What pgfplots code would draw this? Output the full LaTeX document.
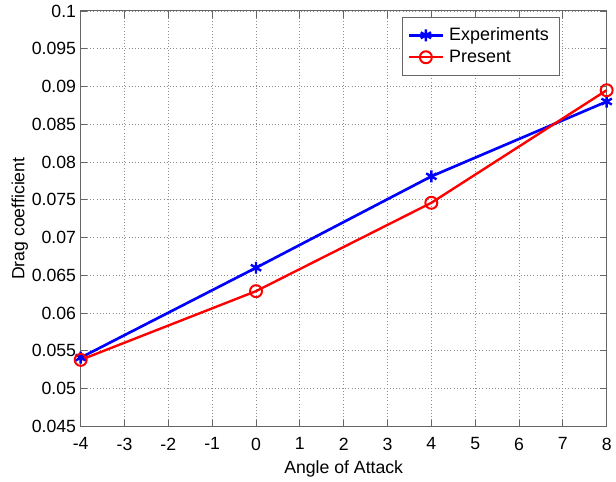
\documentclass[border=0pt]{standalone}
\usepackage{fontspec}
\setmainfont{Liberation Sans}
\usepackage{pgfplots}
\pgfplotsset{compat=1.18}
\definecolor{mblue}{RGB}{0,0,255}
\definecolor{mred}{RGB}{255,0,0}
\begin{document}
\begin{tikzpicture}
\begin{axis}[
  scale only axis,
  width=396pt, height=312.75pt,
  xmin=-4, xmax=8, ymin=0.045, ymax=0.1,
  xtick={-4,-3,...,8},
  ytick={0.045,0.05,0.055,0.06,0.065,0.07,0.075,0.08,0.085,0.09,0.095,0.1},
  scaled y ticks=false,
  yticklabel style={/pgf/number format/fixed,/pgf/number format/precision=3},
  xticklabel style={yshift=-5pt},
  /pgf/number format/assume math mode=true,
  tick align=inside,
  tick style={color=black!60, line width=0.6pt},
  major tick length=5pt,
  axis line style={color=black!60, line width=0.8pt},
  grid=major,
  grid style={dotted, color=black!45, line width=0.6pt},
  font=\fontsize{13.3}{15}\selectfont,
  ticklabel style={font=\fontsize{13.3}{15}\selectfont},
  xlabel={Angle of Attack},
  ylabel={Drag coefficient},
  xlabel style={yshift=-1pt},
  ylabel style={yshift=-4pt},
  legend style={at={(rel axis cs:0.911,0.986)}, anchor=north east,
    draw=black!60, line width=0.6pt, font=\fontsize{13.5}{15}\selectfont,
    inner xsep=4pt, inner ysep=6pt, row sep=1.5pt,
    nodes={inner xsep=4pt}},
  legend cell align=left,
  legend image code/.code={\draw[mark repeat=2,mark phase=2,#1] plot coordinates {(0cm,0cm) (0.44cm,0cm) (0.88cm,0cm)};},
]
\addplot[mblue, line width=2pt, mark=asterisk, mark size=4.5pt, mark options={line width=1.8pt}]
  coordinates {(-4,0.0541) (0,0.0660) (4,0.0781) (8,0.0880)};
\addlegendentry{Experiments}
\addplot[mred, line width=1.8pt, mark=o, mark size=4.5pt, mark options={line width=1.5pt}]
  coordinates {(-4,0.0538) (0,0.0629) (4,0.0746) (8,0.0895)};
\addlegendentry{Present}
\end{axis}
\useasboundingbox ([xshift=-60.75pt,yshift=-41.25pt]current axis.south west) rectangle ([xshift=5.25pt,yshift=8.25pt]current axis.north east);
\end{tikzpicture}
\end{document}
